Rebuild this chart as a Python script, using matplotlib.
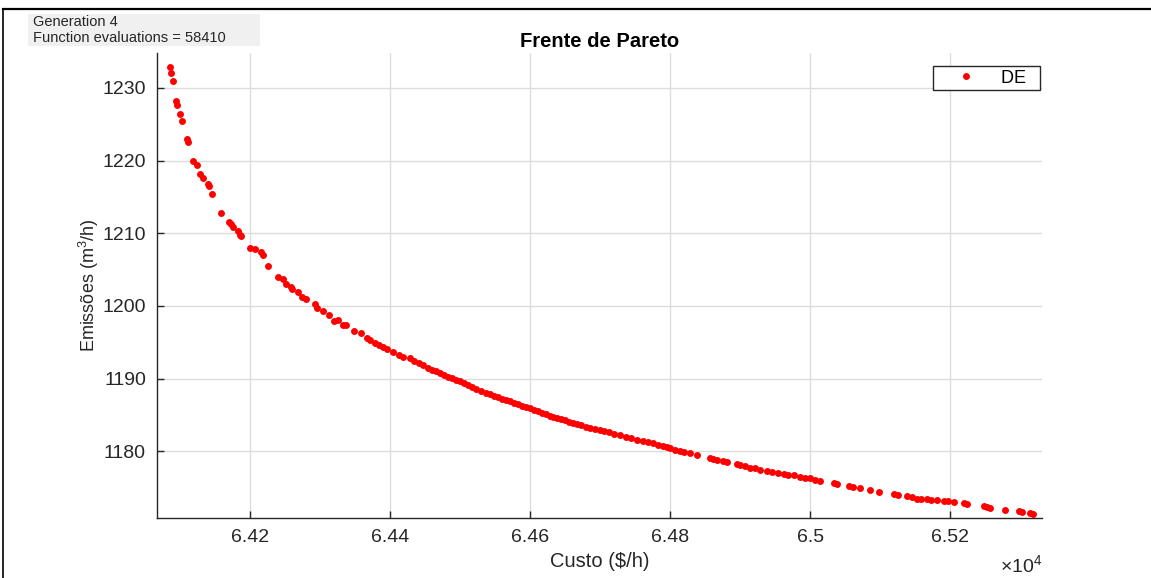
"""Pareto front (DE) - cost vs emissions."""

import numpy as np
import matplotlib
matplotlib.use('Agg')
import matplotlib.pyplot as plt
from matplotlib.lines import Line2D
from matplotlib.patches import Rectangle
from matplotlib.ticker import FuncFormatter

plt.rcParams['font.family'] = ['Liberation Sans', 'DejaVu Sans']
plt.rcParams['mathtext.fontset'] = 'custom'
plt.rcParams['mathtext.rm'] = 'Liberation Sans'
plt.rcParams['mathtext.it'] = 'Liberation Sans:italic'
plt.rcParams['mathtext.bf'] = 'Liberation Sans:bold'

# Pareto front (cost in $/h, emissions in m3/h)
custo = [
    64085.7, 64086.7, 64089.6, 64093.9, 64095.3, 64100.0, 64102.4, 64110.0,
    64111.9, 64119.0, 64123.9, 64128.6, 64132.4, 64139.6, 64141.9, 64146.1,
    64159.0, 64169.6, 64172.9, 64176.1, 64182.9, 64185.7, 64186.7, 64200.0,
    64207.1, 64215.3, 64219.0, 64225.3, 64240.4, 64247.6, 64251.0, 64258.1,
    64260.4, 64268.1, 64274.7, 64279.6, 64292.9, 64296.1, 64303.9, 64312.4,
    64320.4, 64325.3, 64333.3, 64336.7, 64348.1, 64358.1, 64366.7, 64371.4,
    64378.6, 64384.7, 64390.4, 64396.1, 64403.9, 64413.3, 64419.0, 64428.6,
    64434.3, 64441.4, 64447.6, 64454.7, 64460.0, 64465.7, 64471.4, 64477.1,
    64482.9, 64488.6, 64494.3, 64500.0, 64505.7, 64511.4, 64517.1, 64522.9,
    64530.0, 64537.1, 64542.9, 64548.6, 64554.3, 64560.0, 64565.7, 64571.4,
    64577.1, 64582.9, 64588.6, 64594.3, 64600.0, 64605.7, 64611.4, 64617.1,
    64622.9, 64628.6, 64632.9, 64638.6, 64644.3, 64650.0, 64655.7, 64661.4,
    64667.1, 64672.9, 64680.0, 64685.7, 64692.9, 64700.0, 64705.7, 64712.9,
    64720.0, 64728.6, 64737.1, 64744.3, 64752.9, 64761.4, 64768.6, 64775.7,
    64782.9, 64790.0, 64795.7, 64800.0, 64807.1, 64814.3, 64819.0, 64828.6,
    64838.1, 64857.1, 64861.4, 64866.7, 64875.7, 64881.0, 64895.3, 64900.0,
    64907.1, 64914.3, 64921.4, 64928.6, 64938.1, 64945.7, 64954.3, 64961.9,
    64968.6, 64976.1, 64985.7, 64992.9, 65000.0, 65007.1, 65014.3, 65033.3,
    65038.6, 65054.7, 65061.4, 65071.4, 65085.7, 65097.6, 65119.0, 65125.7,
    65138.1, 65145.7, 65152.4, 65158.6, 65166.7, 65172.9, 65181.0, 65190.4,
    65197.1, 65204.7, 65219.0, 65223.8, 65247.6, 65252.9, 65257.1, 65278.6,
    65297.6, 65302.9, 65314.3, 65317.6,
]
emissoes = [
    1232.93, 1232.02, 1230.96, 1228.21, 1227.66, 1226.42, 1225.41, 1222.93,
    1222.56, 1219.99, 1219.35, 1218.15, 1217.64, 1216.74, 1216.50, 1215.44,
    1212.83, 1211.55, 1211.27, 1210.90, 1210.26, 1209.75, 1209.66, 1208.00,
    1207.82, 1207.41, 1207.04, 1205.48, 1204.01, 1203.69, 1202.96, 1202.55,
    1202.27, 1201.94, 1201.25, 1200.90, 1200.25, 1199.66, 1199.24, 1198.69,
    1197.95, 1198.04, 1197.40, 1197.31, 1196.57, 1196.29, 1195.56, 1195.29,
    1194.92, 1194.60, 1194.28, 1194.01, 1193.64, 1193.22, 1192.99, 1192.77,
    1192.40, 1192.08, 1191.80, 1191.47, 1191.23, 1190.98, 1190.74, 1190.50,
    1190.26, 1190.06, 1189.85, 1189.60, 1189.35, 1189.10, 1188.86, 1188.61,
    1188.29, 1187.99, 1187.80, 1187.60, 1187.41, 1187.23, 1187.04, 1186.85,
    1186.65, 1186.47, 1186.27, 1186.07, 1185.88, 1185.69, 1185.48, 1185.29,
    1185.10, 1184.89, 1184.74, 1184.57, 1184.41, 1184.24, 1184.08, 1183.91,
    1183.75, 1183.58, 1183.37, 1183.24, 1183.06, 1182.89, 1182.75, 1182.58,
    1182.41, 1182.20, 1181.98, 1181.80, 1181.60, 1181.39, 1181.24, 1181.06,
    1180.90, 1180.72, 1180.58, 1180.41, 1180.21, 1180.00, 1179.86, 1179.68,
    1179.54, 1178.99, 1178.87, 1178.76, 1178.59, 1178.53, 1178.21, 1178.07,
    1177.89, 1177.75, 1177.62, 1177.47, 1177.29, 1177.13, 1176.97, 1176.83,
    1176.72, 1176.65, 1176.46, 1176.35, 1176.24, 1176.07, 1175.91, 1175.55,
    1175.45, 1175.18, 1175.08, 1174.95, 1174.63, 1174.39, 1174.04, 1173.94,
    1173.80, 1173.64, 1173.48, 1173.42, 1173.35, 1173.26, 1173.21, 1173.15,
    1173.09, 1173.02, 1172.88, 1172.66, 1172.42, 1172.33, 1172.24, 1171.97,
    1171.74, 1171.64, 1171.50, 1171.32,
]
x_ticks = [64200, 64400, 64600, 64800, 65000, 65200]
y_ticks = [1180, 1190, 1200, 1210, 1220, 1230]
x_lim = (64067, 65331)
y_lim = (1170.8, 1234.8)
info_text = 'Generation 4\nFunction evaluations = 58410'

txt = '#262626'

fig = plt.figure(figsize=(11.51, 5.78), dpi=100)
ax = fig.add_axes([0.1364, 0.1038, 0.7689, 0.8045])

ax.plot(custo, emissoes, 'o', color='red', markersize=5,
        markeredgewidth=0, label='DE  ', zorder=3)

ax.set_xlim(*x_lim)
ax.set_ylim(*y_lim)
ax.set_xticks(x_ticks)
ax.set_yticks(y_ticks)
ax.xaxis.set_major_formatter(FuncFormatter(lambda v, p: f'{v / 1e4:g}'))

ax.grid(True, color='#dcdcdc', linewidth=1.0)
ax.set_axisbelow(True)
for side in ('top', 'right'):
    ax.spines[side].set_visible(False)
for side in ('left', 'bottom'):
    ax.spines[side].set_color(txt)
    ax.spines[side].set_linewidth(1.0)

ax.tick_params(direction='in', length=5, width=1, colors=txt,
               labelsize=14, labelcolor=txt)
ax.tick_params(axis='x', pad=8)
ax.tick_params(axis='y', pad=8)

ax.set_xlabel('Custo ($/h)', fontsize=14.5, color=txt, labelpad=4)
ax.set_ylabel('Emissões (m$^3$/h)', fontsize=13, color=txt, labelpad=1)
ax.set_title('Frente de Pareto', fontsize=14.5, fontweight='bold',
             color='black', pad=4)

ax.text(1.0, -0.101, r'$\times10^{4}$', transform=ax.transAxes,
        ha='right', va='center', fontsize=14, color=txt)

leg = ax.legend(loc='upper right', bbox_to_anchor=(0.9977, 0.972),
                borderaxespad=0, fontsize=13, handlelength=3.3,
                handletextpad=0.3, borderpad=0.2, fancybox=False,
                framealpha=1, edgecolor=txt)
leg.get_frame().set_linewidth(1.0)

# status box in the top-left corner
fig.add_artist(Rectangle((28 / 1151, 1 - 46 / 578), 232 / 1151, 32 / 578,
                         transform=fig.transFigure, facecolor='#f0f0f0',
                         edgecolor='none'))
fig.text(33 / 1151, 1 - 15 / 578, info_text, ha='left', va='top',
         fontsize=10.5, color=txt, linespacing=1.2)

# window frame
fig.add_artist(Line2D([3 / 1151, 1.0], [1 - 9 / 578, 1 - 9 / 578],
                      transform=fig.transFigure, color='black', linewidth=1.6))
fig.add_artist(Line2D([3 / 1151, 3 / 1151], [0.0, 1 - 9 / 578],
                      transform=fig.transFigure, color='black', linewidth=1.2))

fig.savefig('out.png', dpi=100)
